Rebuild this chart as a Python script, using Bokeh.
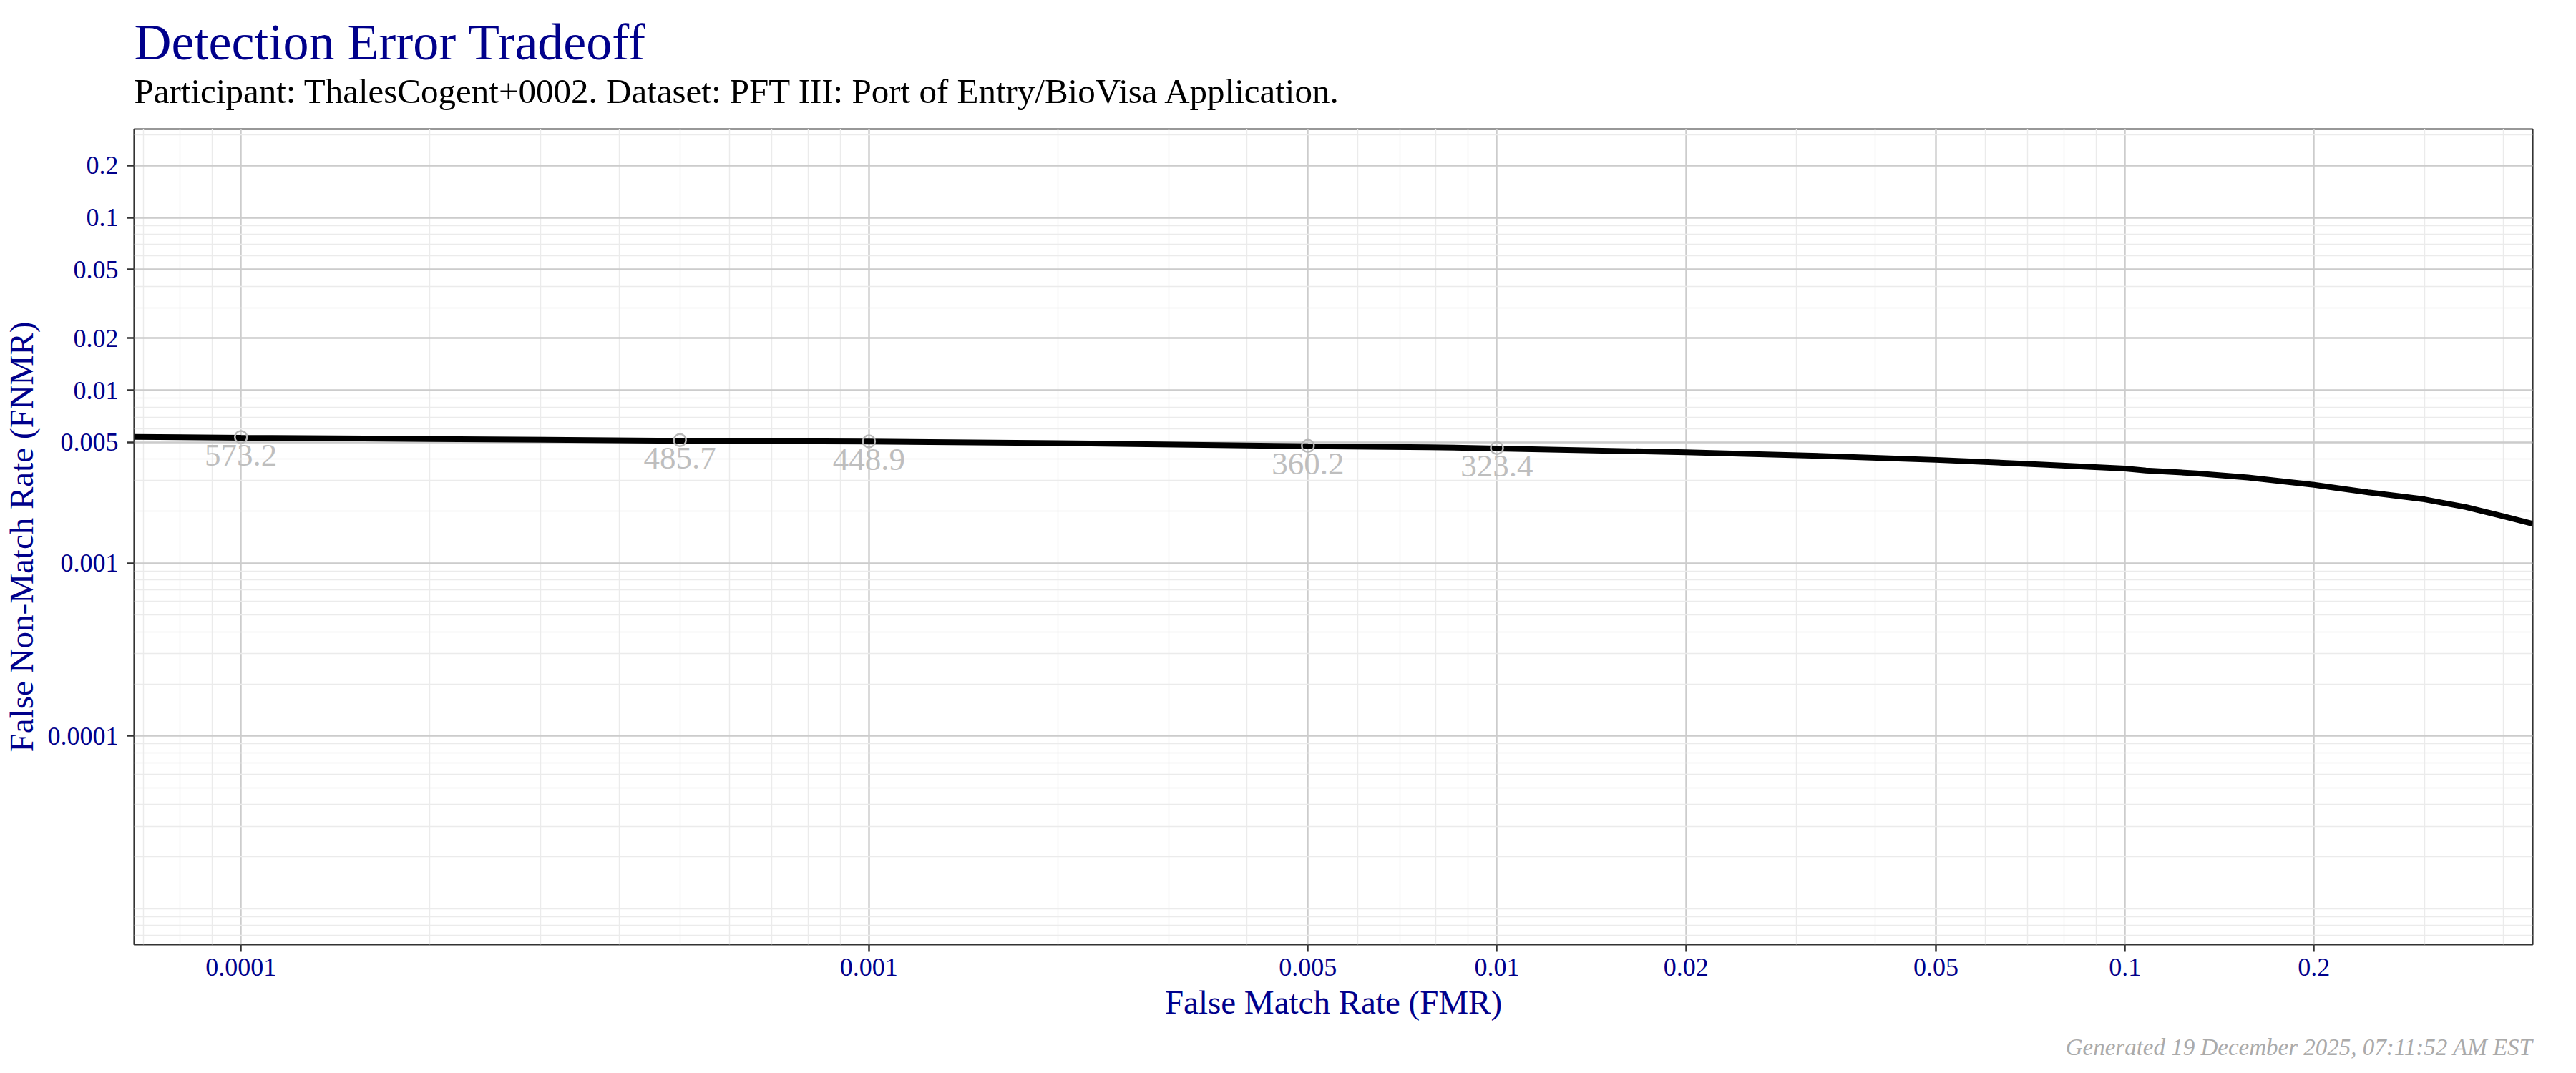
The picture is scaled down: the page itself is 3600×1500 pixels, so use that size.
from bokeh.plotting import figure
from bokeh.models import (Range1d, FixedTicker, CustomJSTickFormatter, Title,
                          ColumnDataSource)
from bokeh.embed import file_html
from bokeh.resources import INLINE

# ---- data ----
fmr = [6.76e-5, 1e-4, 2e-4, 5e-4, 1e-3, 2e-3, 5e-3, 7.8e-3, 1e-2, 2e-2, 3.1e-2,
       5e-2, 7.4e-2, 0.1, 0.108, 0.13, 0.157, 0.2, 0.244, 0.3, 0.349, 0.4, 0.446]
fnmr = [0.00538, 0.00532, 0.00523, 0.00511, 0.00505, 0.00495, 0.00475, 0.00469,
        0.00461, 0.00438, 0.00420, 0.00396, 0.00372, 0.00353, 0.00344, 0.00331,
        0.00313, 0.00284, 0.00257, 0.00234, 0.00211, 0.00187, 0.00169]

pt_fmr = [1e-4, 5e-4, 1e-3, 5e-3, 1e-2]
pt_fnmr = [0.00537, 0.00515, 0.00507, 0.00477, 0.00463]
pt_thr = ["573.2", "485.7", "448.9", "360.2", "323.4"]

x_ticks = [1e-4, 1e-3, 5e-3, 1e-2, 2e-2, 5e-2, 0.1, 0.2]
y_ticks = [1e-4, 1e-3, 5e-3, 1e-2, 2e-2, 5e-2, 0.1, 0.2]
minor = [m * 10.0 ** k for k in range(-7, 1) for m in range(1, 10)]

title_txt = "Detection Error Tradeoff"
subtitle_txt = "Participant: ThalesCogent+0002. Dataset: PFT III: Port of Entry/BioVisa Application."
caption_txt = "Generated 19 December 2025, 07:11:52 AM EST"
xlab = "False Match Rate (FMR)"
ylab = "False Non-Match Rate (FNMR)"

FONT = "Liberation Serif"
BLUE = "#00008B"

p = figure(width=3584, height=1496, x_axis_type="log", y_axis_type="log",
           x_range=Range1d(6.76e-5, 0.446), y_range=Range1d(6.2e-6, 0.325),
           output_backend="svg", toolbar_location=None,
           min_border_left=181, min_border_right=45, min_border_top=180,
           min_border_bottom=174)
p.background_fill_color = "white"
p.border_fill_color = "white"
p.outline_line_color = "#333333"
p.outline_line_width = 2.2

# titles
p.title.text = title_txt
p.title.text_font = FONT
p.title.text_font_size = "72px"
p.title.text_font_style = "normal"
p.title.text_color = BLUE
p.title.align = "left"
p.title.standoff = -52
sub_title = Title(text=subtitle_txt, text_font=FONT, text_font_size="49px",
                  text_font_style="normal", text_color="black", align="left",
                  standoff=51)
p.add_layout(sub_title, "above")
cap = Title(text=caption_txt, text_font=FONT, text_font_size="33px",
            text_font_style="italic", text_color="#AAAAAA", align="right",
            standoff=29)
p.add_layout(cap, "below")

fmt = CustomJSTickFormatter(code="return tick.toString();")
for ax, ticks, lab in ((p.xaxis[0], x_ticks, xlab), (p.yaxis[0], y_ticks, ylab)):
    ax.ticker = FixedTicker(ticks=ticks, minor_ticks=minor)
    ax.formatter = fmt
    ax.axis_label = lab
    ax.axis_label_text_font = FONT
    ax.axis_label_text_font_size = "47px"
    ax.axis_label_text_font_style = "normal"
    ax.axis_label_text_color = BLUE
    ax.major_label_text_font = FONT
    ax.major_label_text_font_size = "36px"
    ax.major_label_text_color = BLUE
    ax.axis_line_color = None
    ax.major_tick_line_color = "#333333"
    ax.major_tick_line_width = 2.5
    ax.major_tick_out = 10
    ax.major_tick_in = 0
    ax.minor_tick_line_color = None

p.xaxis[0].major_label_standoff = 9
p.xaxis[0].axis_label_standoff = 8
p.yaxis[0].major_label_standoff = 12
p.yaxis[0].axis_label_standoff = 8

for g in (p.xgrid[0], p.ygrid[0]):
    g.grid_line_color = "#CCCCCC"
    g.grid_line_width = 2.4
    g.minor_grid_line_color = "#EBEBEB"
    g.minor_grid_line_width = 1.4

p.line(fmr, fnmr, line_color="black", line_width=8)

src = ColumnDataSource(dict(x=pt_fmr, y=pt_fnmr, t=pt_thr))
p.scatter("x", "y", source=src, marker="circle", size=17, fill_color=None,
          line_color="#B8B8B8", line_width=2.5)
p.text("x", "y", text="t", source=src, text_font={"value": FONT},
       text_font_size={"value": "45px"}, text_color="#BEBEBE",
       text_align="center", text_baseline="top", y_offset=11)

open("out.html", "w").write(file_html(p, INLINE))
